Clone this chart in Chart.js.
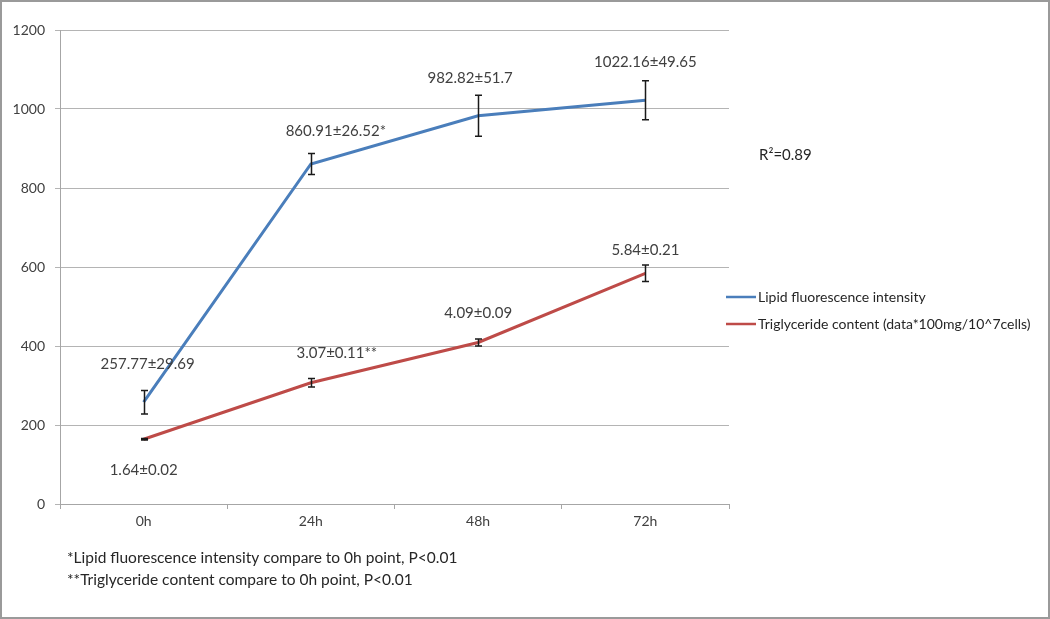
<!DOCTYPE html>
<html><head><meta charset="utf-8">
<script src="https://cdn.jsdelivr.net/npm/chart.js@4.4.1/dist/chart.umd.min.js"></script>
<style>html,body{margin:0;padding:0;background:#fff}#wrap{width:1050px;height:619px;position:relative}</style>
</head><body><div id="wrap"><canvas id="c" width="1050" height="619"></canvas></div>
<script>
const categories = ['0h','24h','48h','72h'];
const lipidValues = [257.77, 860.91, 982.82, 1022.16];
const lipidErrors = [29.69, 26.52, 51.7, 49.65];
const lipidMarks = ['', '*', '', ''];
const tgRaw = [1.64, 3.07, 4.09, 5.84];
const tgRawErrors = [0.02, 0.11, 0.09, 0.21];
const tgMarks = ['', '**', '', ''];
const tgValues = tgRaw.map(v => v * 100);
const tgErrors = tgRawErrors.map(v => v * 100);
const yTicks = [0, 200, 400, 600, 800, 1000, 1200];
const seriesNames = ['Lipid fluorescence intensity', 'Triglyceride content (data*100mg/10^7cells)'];
const footnotes = ['*Lipid fluorescence intensity compare to 0h point, P<0.01', '**Triglyceride content compare to 0h point, P<0.01'];
const rSquared = 'R²=0.89';

const FONT = 'Lato, "Open Sans", sans-serif';
const lipidLabels = lipidValues.map((v,i) => v + '±' + lipidErrors[i] + lipidMarks[i]);
const tgLabels = tgRaw.map((v,i) => v.toFixed(2) + '±' + tgRawErrors[i].toFixed(2) + tgMarks[i]);

// label offsets (style): [dx, dy] relative to point
const lipidLabelOff = [[4,-38],[25,-33],[-8,-38],[0,-38]];
const tgLabelOff = [[0,31],[26,-30],[0,-29],[0,-23]];

const extras = {
  id: 'extras',
  afterDatasetsDraw(chart) {
    const ctx = chart.ctx;
    const ys = chart.scales.y;
    const errs = [lipidErrors, tgErrors];
    ctx.save();
    // error bars
    chart.data.datasets.forEach((ds, di) => {
      const meta = chart.getDatasetMeta(di);
      meta.data.forEach((pt, i) => {
        const v = ds.data[i], e = errs[di][i];
        const yTop = ys.getPixelForValue(v + e), yBot = ys.getPixelForValue(v - e);
        const x = Math.round(pt.x) + 0.5;
        ctx.strokeStyle = '#1a1a1a';
        ctx.lineWidth = 1.5;
        ctx.beginPath();
        ctx.moveTo(x, yTop); ctx.lineTo(x, yBot);
        ctx.moveTo(x-3.5, yTop); ctx.lineTo(x+3.5, yTop);
        ctx.moveTo(x-3.5, yBot); ctx.lineTo(x+3.5, yBot);
        ctx.stroke();
      });
    });
    // data labels
    ctx.fillStyle = '#404040';
    ctx.font = '15px ' + FONT;
    ctx.textAlign = 'center';
    ctx.textBaseline = 'middle';
    const labelSets = [[lipidLabels, lipidLabelOff], [tgLabels, tgLabelOff]];
    labelSets.forEach(([labels, offs], di) => {
      const meta = chart.getDatasetMeta(di);
      meta.data.forEach((pt, i) => {
        ctx.fillText(labels[i], pt.x + offs[i][0], pt.y + offs[i][1]);
      });
    });
    // legend
    ctx.textAlign = 'left';
    ctx.font = '14px ' + FONT;
    ctx.fillStyle = '#262626';
    chart.data.datasets.forEach((ds, di) => {
      const y = 297 + di * 27;
      ctx.strokeStyle = ds.borderColor;
      ctx.lineWidth = 2.5;
      ctx.beginPath(); ctx.moveTo(726, y); ctx.lineTo(756, y); ctx.stroke();
      ctx.fillText(ds.label, 758, y);
    });
    // R squared
    ctx.font = '15px ' + FONT;
    ctx.fillText(rSquared, 759, 155);
    // footnotes
    ctx.font = '15.5px ' + FONT;
    footnotes.forEach((t, i) => ctx.fillText(t, 67, 558 + i * 22));
    // outer border
    ctx.strokeStyle = '#9a9a9a';
    ctx.lineWidth = 2;
    ctx.strokeRect(1, 1, 1048, 617);
    ctx.restore();
  }
};

new Chart(document.getElementById('c'), {
  type: 'line',
  data: {
    labels: categories,
    datasets: [
      { label: seriesNames[0], data: lipidValues, borderColor: '#4a7ebb', borderWidth: 3, pointRadius: 0, tension: 0, fill: false },
      { label: seriesNames[1], data: tgValues, borderColor: '#be4b48', borderWidth: 3, pointRadius: 0, tension: 0, fill: false }
    ]
  },
  options: {
    responsive: false,
    animation: false,
    devicePixelRatio: 1,
    layout: { padding: { left: 0, top: 30, right: 321, bottom: 0 } },
    plugins: { legend: { display: false }, tooltip: { enabled: false } },
    scales: {
      x: {
        offset: true,
        grid: { offset: true, drawOnChartArea: false, drawTicks: true, tickLength: 5, color: '#a6a6a6' },
        border: { color: '#a6a6a6', width: 1 },
        ticks: { color: '#404040', font: { family: FONT, size: 14 }, padding: 4 },
        afterFit(s) { s.height = 115; }
      },
      y: {
        min: 0, max: 1200,
        afterBuildTicks(s) { s.ticks = yTicks.map(v => ({ value: v })); },
        grid: { color: '#b4b4b4', tickLength: 5 },
        border: { color: '#a6a6a6', width: 1 },
        ticks: { color: '#404040', font: { family: FONT, size: 14 }, padding: 10, callback: v => String(v) },
        afterFit(s) { s.width = 60; }
      }
    }
  },
  plugins: [extras]
});
</script></body></html>
